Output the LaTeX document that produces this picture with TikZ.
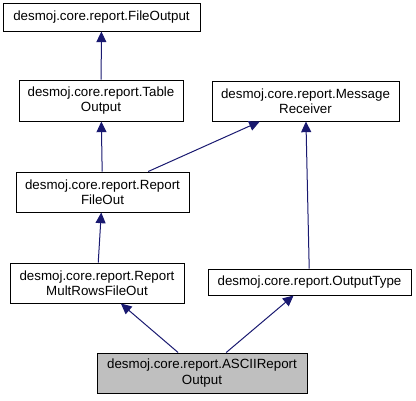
\documentclass[tikz,border=0pt]{standalone}
\usepackage{fontspec}
\setmainfont{Liberation Sans}
\usepackage{tikz}
\usetikzlibrary{arrows.meta}
\definecolor{edgeblue}{HTML}{191970}

\begin{document}
\begin{tikzpicture}[x=0.75pt,y=-0.75pt,
    cls/.style={draw=black,line width=0.75pt,align=center,inner sep=0pt,
      font=\fontsize{10}{11.5}\selectfont},
    inherit/.style={draw=edgeblue,line width=0.75pt,
      -{Triangle[length=8pt,width=7.5pt,fill=edgeblue]}}]
      \useasboundingbox (0,0) rectangle (416,400);
      % classes
      \node[cls,minimum width=147.75pt,minimum height=21pt] (fo) at (101.5,17) {desmoj.core.report.FileOutput};
      \node[cls,minimum width=123pt,minimum height=30.75pt] (to) at (101,100.5) {desmoj.core.report.Table\\Output};
      \node[cls,minimum width=140.25pt,minimum height=30pt] (mr) at (305.5,101) {desmoj.core.report.Message\\Receiver};
      \node[cls,minimum width=129.75pt,minimum height=30pt] (rfo) at (102.5,192) {desmoj.core.report.Report\\FileOut};
      \node[cls,minimum width=130.5pt,minimum height=30pt] (rmr) at (97,283) {desmoj.core.report.Report\\MultRowsFileOut};
      \node[cls,minimum width=152.25pt,minimum height=19.5pt] (ot) at (309.5,282) {desmoj.core.report.OutputType};
      \node[cls,fill=black!25,minimum width=157.5pt,minimum height=30pt] (ascii) at (202,373) {desmoj.core.report.ASCIIReport\\Output};
      % inheritance
      \draw[inherit] (to) -- (fo);
      \draw[inherit] (rfo) -- (to);
      \draw[inherit] (rfo) -- (mr);
      \draw[inherit] (rmr) -- (rfo);
      \draw[inherit] (ot) -- (mr);
      \draw[inherit] (ascii) -- (rmr);
      \draw[inherit] (ascii) -- (ot);
   \end{tikzpicture}
\end{document}
